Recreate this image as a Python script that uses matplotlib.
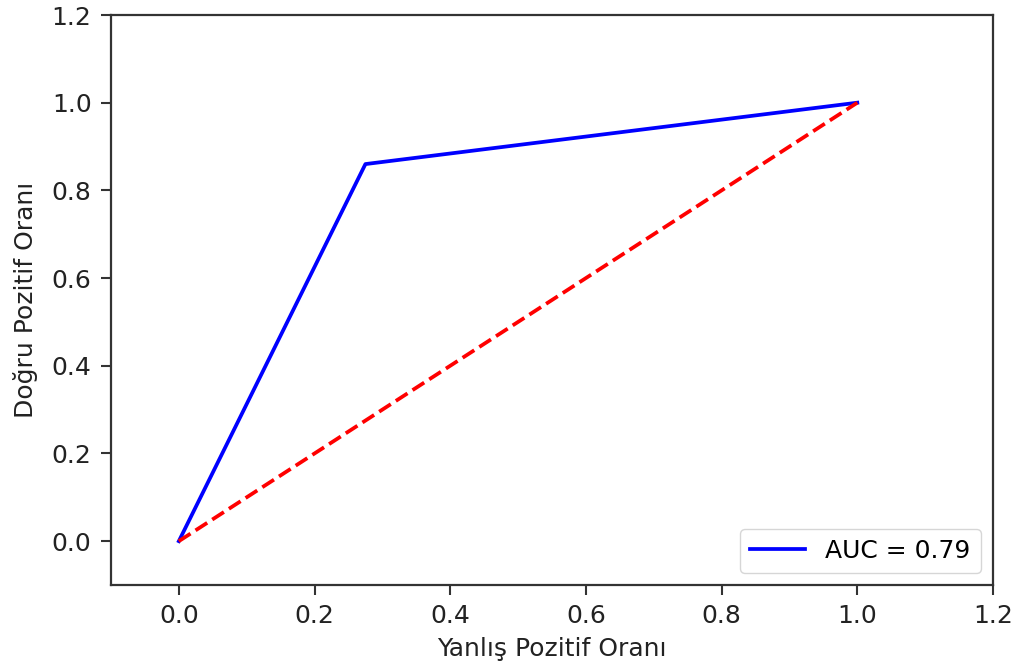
import matplotlib
matplotlib.use("Agg")
import matplotlib.pyplot as plt

# ROC data
fpr = [0.0, 0.275, 1.0]
tpr = [0.0, 0.86, 1.0]
diag = [0.0, 1.0]
auc_label = "AUC = 0.79"
ticks = [0.0, 0.2, 0.4, 0.6, 0.8, 1.0, 1.2]

fig = plt.figure(figsize=(10.19, 6.72), dpi=100)
ax = fig.add_axes([111 / 1019, 1 - 585 / 672, (993 - 111) / 1019, (585 - 15) / 672])

ax.plot(fpr, tpr, color="blue", lw=2.7, label=auc_label)
ax.plot(diag, diag, color="red", lw=2.7, linestyle="--")

ax.set_xlim(-0.1, 1.2)
ax.set_ylim(-0.1, 1.2)
ax.set_xticks(ticks)
ax.set_yticks(ticks)
ax.tick_params(labelsize=18, length=7, width=1.5, pad=7, colors="#333333", labelcolor="#222222")
for s in ax.spines.values():
    s.set_linewidth(1.6)
    s.set_color("#333333")

ax.set_xlabel("Yanlış Pozitif Oranı", fontsize=18, color="#222222", labelpad=6)
ax.set_ylabel("Doğru Pozitif Oranı", fontsize=18, color="#222222", labelpad=10)
ax.legend(loc="lower right", fontsize=18, handlelength=2.2)

fig.savefig("out.png", dpi=100)
